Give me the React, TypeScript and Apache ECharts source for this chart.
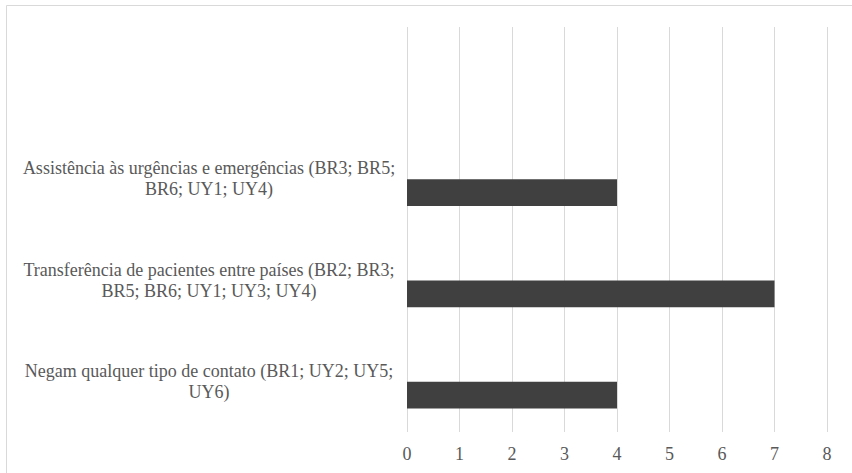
import React, { useEffect, useRef } from "react";
import * as echarts from "echarts";

// Categories listed bottom to top; the top slot is left empty.
const categories: string[] = [
  "Negam qualquer tipo de contato (BR1; UY2; UY5;\nUY6)",
  "Transferência de pacientes entre países (BR2; BR3;\nBR5; BR6; UY1; UY3; UY4)",
  "Assistência às urgências e emergências (BR3; BR5;\nBR6; UY1; UY4)",
  "",
];
const counts: (number | null)[] = [4, 7, 4, null];
const xTicks: number[] = [0, 1, 2, 3, 4, 5, 6, 7, 8];

const TEXT = "#595959";
const GRID = "#d9d9d9";
const BAR = "#404040";
const FONT = "Times New Roman";

export default function App() {
  const ref = useRef<HTMLDivElement>(null);

  useEffect(() => {
    if (!ref.current) return;
    const chart = echarts.init(ref.current, undefined, { renderer: "svg" });
    const xMin = xTicks[0];
    const xMax = xTicks[xTicks.length - 1];
    chart.setOption({
      animation: false,
      backgroundColor: "#ffffff",
      textStyle: { fontFamily: FONT },
      graphic: [
        {
          type: "rect",
          shape: { x: 6.5, y: 5.5, width: 900, height: 600 },
          style: { fill: "none", stroke: GRID, lineWidth: 1 },
          silent: true,
        },
      ],
      grid: [
        { left: 407, right: 25, top: 27, bottom: 41 },
        { left: 407, right: 25, top: 40.7, bottom: 27.3 },
      ],
      xAxis: [
        {
          type: "value",
          gridIndex: 0,
          min: xMin,
          max: xMax,
          interval: 1,
          axisLine: { show: false },
          axisTick: { show: false },
          splitLine: { show: true, lineStyle: { color: GRID, width: 1 } },
          axisLabel: {
            color: TEXT,
            fontFamily: FONT,
            fontSize: 18,
            margin: 13,
          },
        },
        {
          type: "value",
          gridIndex: 1,
          min: xMin,
          max: xMax,
          show: false,
        },
      ],
      yAxis: [
        {
          type: "category",
          gridIndex: 0,
          data: categories,
          axisLine: { show: false },
          axisTick: { show: false },
          splitLine: { show: false },
          axisLabel: {
            color: TEXT,
            fontFamily: FONT,
            fontSize: 18,
            lineHeight: 21,
            align: "center",
            margin: 198,
            interval: 0,
          },
        },
        {
          type: "category",
          gridIndex: 1,
          data: categories,
          show: false,
        },
      ],
      series: [
        {
          type: "bar",
          xAxisIndex: 1,
          yAxisIndex: 1,
          data: counts,
          barWidth: 26.6,
          itemStyle: { color: BAR },
        },
      ],
    });
    return () => chart.dispose();
  }, []);

  return (
    <div
      ref={ref}
      style={{ position: "fixed", left: 0, top: 0, width: 852, height: 473 }}
    />
  );
}
